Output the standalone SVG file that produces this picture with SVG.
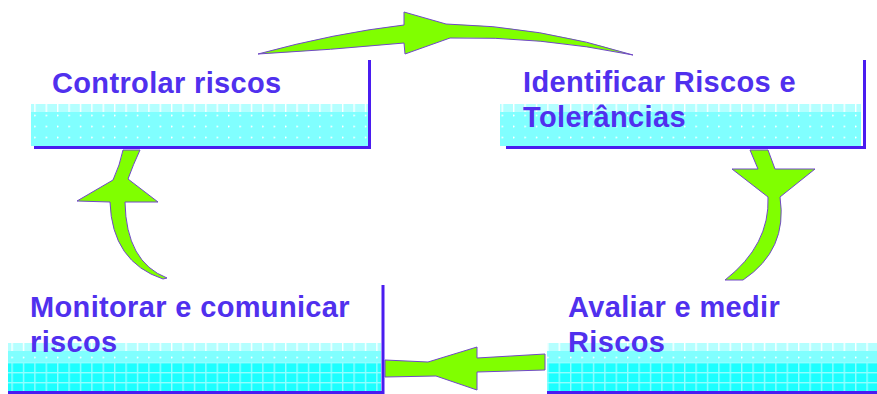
<svg xmlns="http://www.w3.org/2000/svg" width="877" height="394" viewBox="0 0 877 394">
<defs>
<style>
.lbl{font-family:"Liberation Sans",Arial,sans-serif;font-weight:bold;font-size:29px;letter-spacing:0.35px;fill:#5030EE;}
.edge{stroke:#4A1CF0;stroke-width:3;fill:none;}
.arrow{fill:#80FF00;stroke:#7048C8;stroke-width:1;stroke-linejoin:round;}
</style>
<pattern id="ticks" patternUnits="userSpaceOnUse" x="0" y="0" width="11.4" height="10">
<rect width="11.4" height="10" fill="#B4FFFF"/>
<rect x="0" y="0" width="1.4" height="10" fill="#FFFFFF"/>
</pattern>
<pattern id="dots" patternUnits="userSpaceOnUse" x="0" y="0" width="11.4" height="11">
<rect width="11.4" height="11" fill="#80FFFF"/>
<circle cx="0.7" cy="5.5" r="0.9" fill="#FFFFFF"/>
</pattern>
<pattern id="grid" patternUnits="userSpaceOnUse" x="0" y="2" width="11.4" height="10">
<rect width="11.4" height="10" fill="#1CFFFF"/>
<rect x="0" y="0" width="1.4" height="10" fill="#90FFFF"/>
<rect x="0" y="0" width="11.4" height="1.4" fill="#90FFFF"/>
</pattern>
</defs>

<g id="connectors">
<path id="arrow-top" class="arrow" d="M258,54 Q335,33 404,25 L404,12 L446,24 Q540,26 633,55 Q540,36 450,38 L405,54 L404,43 Q330,50 258,54 Z"/>
<path id="arrow-right" class="arrow" d="M750,150 L768,150 L775,169 L815,169 L780,197 Q788,250 743,280 L725,280 Q770,245 768,197 L732,169 L758,169 Z"/>
<path id="arrow-bottom" class="arrow" d="M545,354 L477,358 L477,347 L428,362 L385,360 L385,377 L436,376 L477,390 L477,372 L545,370 Z"/>
<path id="arrow-left" class="arrow" d="M123,150 L140,150 Q133,165 128,179 L158,202 L125,202 Q126,262 167,278 L163,279 Q112,262 110,202 L77,201 L113,180 Q120,165 123,150 Z"/>
</g>

<g id="node-controlar">
<rect x="31" y="104" width="337" height="8" fill="url(#ticks)"/>
<rect x="31" y="112" width="337" height="34" fill="url(#dots)"/>
<path class="edge" d="M34,147.5 H371 M369.5,60 V149"/>
<text class="lbl" x="52" y="93">Controlar riscos</text>
</g>

<g id="node-identificar">
<rect x="500" y="104" width="361" height="8" fill="url(#ticks)"/>
<rect x="500" y="112" width="361" height="34" fill="url(#dots)"/>
<path class="edge" d="M506,147.5 H866 M864.5,60 V149"/>
<text class="lbl" x="523" y="92">Identificar Riscos e</text>
<text class="lbl" x="523" y="127">Tolerâncias</text>
</g>

<g id="node-avaliar">
<rect x="547" y="343" width="330" height="8" fill="url(#ticks)"/>
<rect x="547" y="351" width="330" height="11" fill="url(#dots)"/>
<rect x="547" y="362" width="330" height="30" fill="url(#grid)"/>
<path class="edge" d="M547,392.5 H877"/>
<text class="lbl" x="568" y="317">Avaliar e medir</text>
<text class="lbl" x="568" y="352">Riscos</text>
</g>

<g id="node-monitorar">
<rect x="8" y="343" width="373" height="8" fill="url(#ticks)"/>
<rect x="8" y="351" width="373" height="11" fill="url(#dots)"/>
<rect x="8" y="362" width="373" height="30" fill="url(#grid)"/>
<path class="edge" d="M8,392.5 H383 M383,285 V394"/>
<text class="lbl" x="30" y="317">Monitorar e comunicar</text>
<text class="lbl" x="30" y="352">riscos</text>
</g>
</svg>
